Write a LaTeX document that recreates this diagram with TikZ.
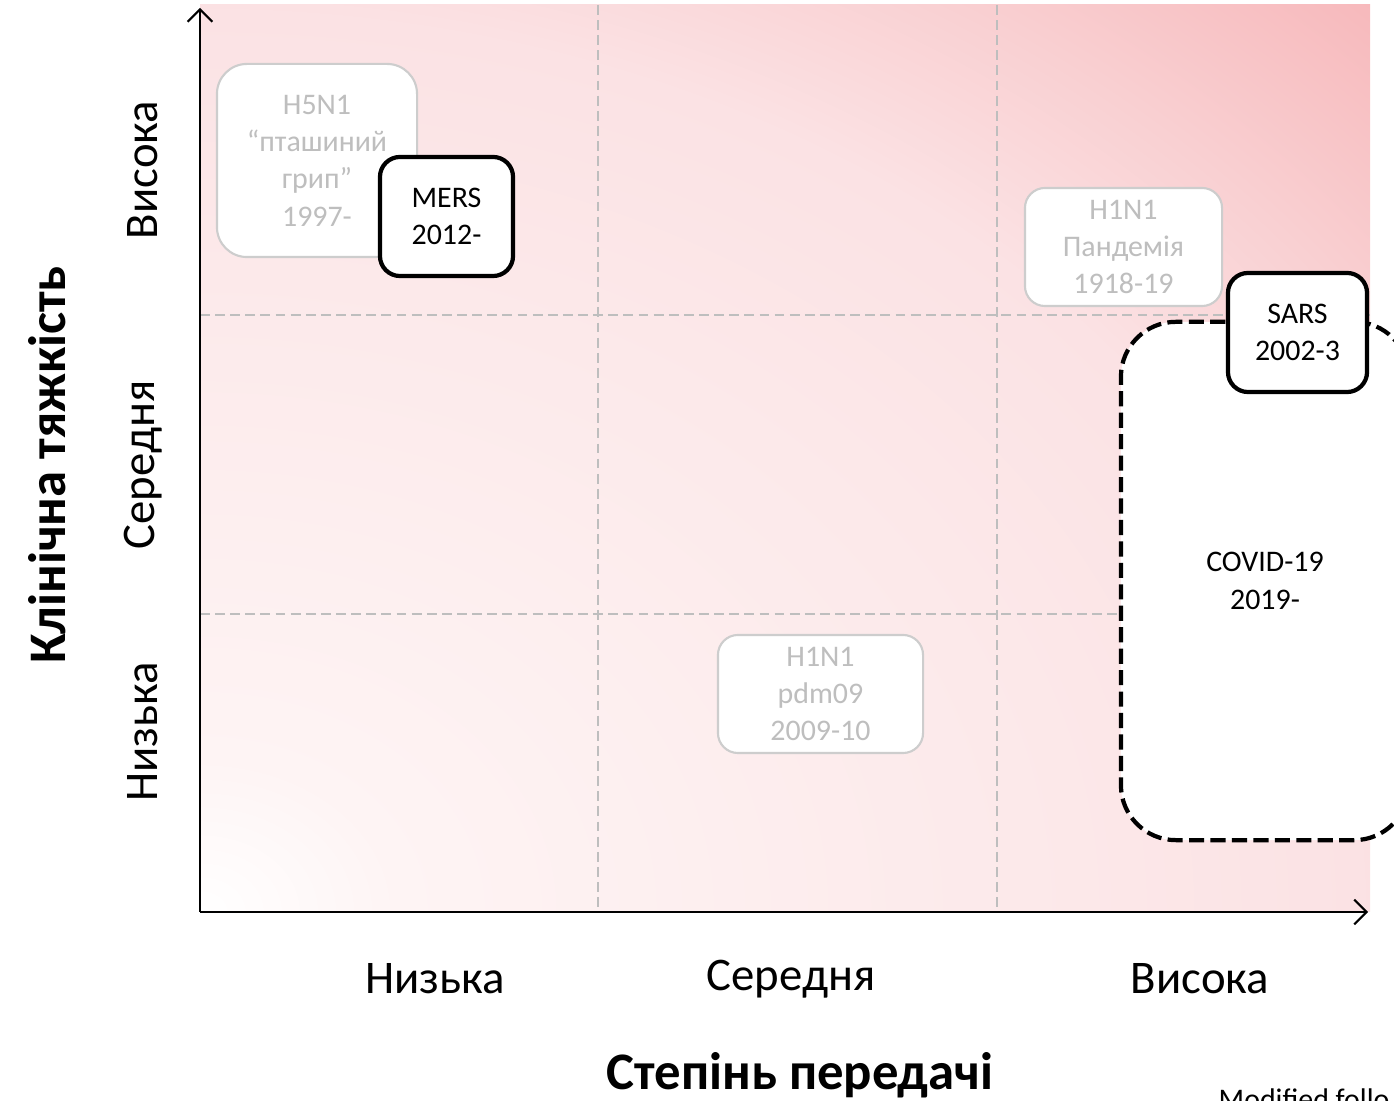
\documentclass[tikz,border=0pt]{standalone}
\usepackage{fontspec}
\setmainfont{Carlito}
\usetikzlibrary{calc,arrows.meta,shadings}

\definecolor{bgA}{RGB}{254,244,244}
\definecolor{bgB}{RGB}{252,233,234}
\definecolor{bgC}{RGB}{251,226,228}
\definecolor{bgD}{RGB}{249,208,210}
\definecolor{bgpink}{RGB}{247,185,188}
\definecolor{boxgray}{RGB}{205,205,205}
\definecolor{txtgray}{RGB}{190,190,190}
\definecolor{gridgray}{RGB}{190,190,190}

\pgfdeclareradialshading{cornerglow}{\pgfpoint{0bp}{0bp}}{color(0bp)=(white); color(3bp)=(bgA); color(12.5bp)=(bgB); color(17.5bp)=(bgC); color(21bp)=(bgD); color(25bp)=(bgpink); color(50bp)=(bgpink)}

\tikzset{
  gridline/.style={gridgray, line width=0.55pt, dash pattern=on 2.8pt off 1.5pt},
  axisline/.style={black, line width=0.6pt},
  boxfont/.style={font=\fontsize{8.5}{10.6}\selectfont, align=center},
  oldbox/.style={boxfont, draw=boxgray, fill=white, text=txtgray, line width=0.6pt, rounded corners=0.2cm},
  newbox/.style={boxfont, draw=black, fill=white, text=black, line width=1.2pt, rounded corners=0.2cm},
  nowbox/.style={boxfont, draw=black, fill=white, text=black, line width=1.2pt, rounded corners=0.55cm, dash pattern=on 4.3pt off 1.8pt},
  lvl/.style={font=\fontsize{13.3}{16}\selectfont},
  axtitle/.style={font=\fontsize{15}{18}\selectfont\bfseries}
}

\begin{document}
\begin{tikzpicture}[x=0.01cm, y=-0.01cm, >={Straight Barb[length=3.5pt,width=7pt]}]
\useasboundingbox (0,0) rectangle (1394,1101);

\def\xL{200}
\def\xR{1370}
\def\yT{5}
\def\yB{912}

\coordinate (O) at (\xL,\yB);
\coordinate (Ytop) at (\xL,8);
\coordinate (Xend) at (1368,\yB);

% background
\begin{scope}
  \clip (\xL,\yB) rectangle (\xR,\yT);
  \shade[shading=cornerglow] (O) ellipse [x radius=16.55cm, y radius=12.83cm];
\end{scope}

% grid
\foreach \x in {598,997} {
  \draw[gridline] (\x,\yT) -- (\x,\yB);
}
\foreach \y in {315,614} {
  \draw[gridline] (\xL,\y) -- (\xR,\y);
}

% axes
\draw[axisline, ->] (O) -- (Ytop);
\draw[axisline, ->] (O) -- (Xend);

% outbreaks
\node[oldbox, minimum width=2cm, minimum height=1.93cm, rounded corners=0.3cm] (h5n1) at (317,160.5) {H5N1\\“пташиний\\грип”\\1997-};
\node[newbox, minimum width=1.33cm, minimum height=1.19cm] (mers) at (446.5,216.5) {MERS\\2012-};
\node[oldbox, minimum width=1.97cm, minimum height=1.18cm] (h1n1a) at (1123.5,247) {H1N1\\Пандемія\\1918-19};
\node[oldbox, minimum width=2.05cm, minimum height=1.18cm] (h1n1b) at (820.5,694) {H1N1\\pdm09\\2009-10};
\node[nowbox, minimum width=2.88cm, minimum height=5.18cm] (covid) at (1265,581) {COVID-19\\2019-};
\node[newbox, minimum width=1.39cm, minimum height=1.19cm] (sars) at (1297.5,332.5) {SARS\\2002-3};

% levels
\node[lvl] (xlow) at (435,979) {Низька};
\node[lvl] (xmid) at (791,979) {Середня};
\node[lvl] (xhigh) at (1200,979) {Висока};
\node[lvl, rotate=90] (ylow) at (143,732) {Низька};
\node[lvl, rotate=90] (ymid) at (143,465) {Середня};
\node[lvl, rotate=90] (yhigh) at (143,170) {Висока};

% titles
\node[axtitle] (xtitle) at (800,1075) {Степінь передачі};
\node[axtitle, rotate=90] (ytitle) at (47,465) {Клінічна тяжкість};
\node[font=\fontsize{8.5}{10}\selectfont, anchor=base west, inner sep=0pt] (note) at (1218,1109) {Modified follo};

\end{tikzpicture}
\end{document}
